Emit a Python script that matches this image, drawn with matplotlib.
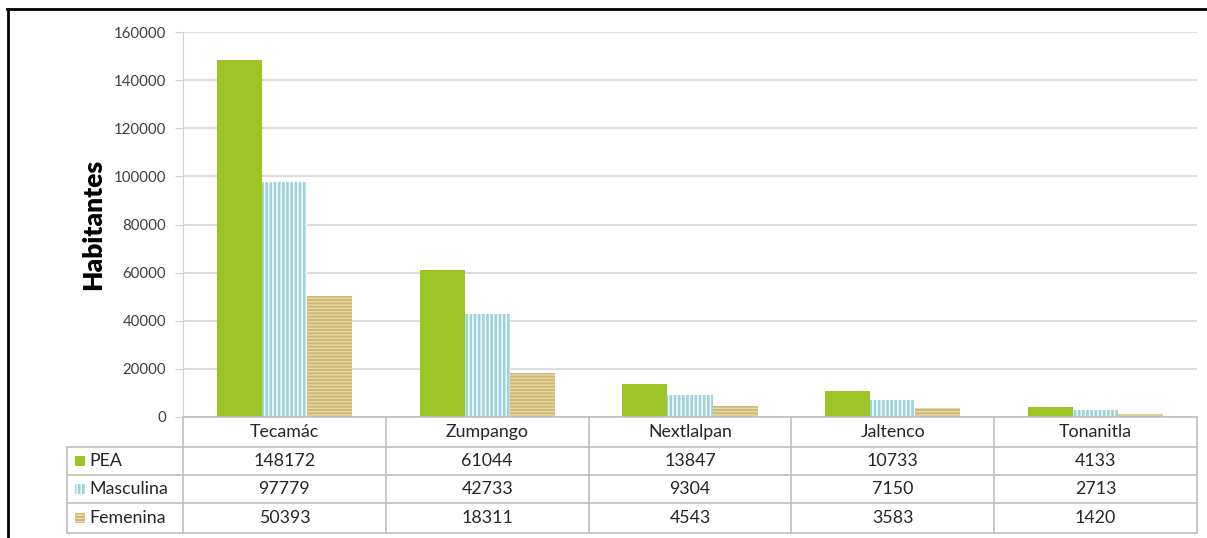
import matplotlib
matplotlib.use("Agg")
import matplotlib.pyplot as plt
from matplotlib.patches import Rectangle
from matplotlib.lines import Line2D
import numpy as np

municipios = ["Tecamác", "Zumpango", "Nextlalpan", "Jaltenco", "Tonanitla"]
series = ["PEA", "Masculina", "Femenina"]
pea = [148172, 61044, 13847, 10733, 4133]
masculina = [97779, 42733, 9304, 7150, 2713]
femenina = [50393, 18311, 4543, 3583, 1420]
yticks = [0, 20000, 40000, 60000, 80000, 100000, 120000, 140000, 160000]

colors = ["#9BC424", "#9FD3DB", "#CFB874"]
hatches = [None, "||||", "-----"]
hatch_colors = [None, "white", "#E6D9A8"]

plt.rcParams["font.family"] = ["Lato", "DejaVu Sans"]
plt.rcParams["hatch.linewidth"] = 1.0

W, H = 1207, 538
fig = plt.figure(figsize=(W / 100, H / 100), dpi=100)


def px(x0, y0, x1, y1):
    return [x0 / W, 1 - y1 / H, (x1 - x0) / W, (y1 - y0) / H]


ax = fig.add_axes(px(183, 32, 1197, 417))
n = len(municipios)
x = np.arange(n)
width = 0.222
values = [pea, masculina, femenina]
for i, (vals, c, h, hc) in enumerate(zip(values, colors, hatches, hatch_colors)):
    ax.bar(x + (i - 1) * width, vals, width, color=c,
           edgecolor=hc if hc else c, linewidth=0, hatch=h, zorder=3)

ax.set_xlim(-0.5, n - 0.5)
ax.set_ylim(0, 160000)
ax.set_yticks(yticks)
ax.set_yticklabels([str(v) for v in yticks], fontsize=10.8, color="#404040")
ax.set_xticks([])
ax.yaxis.grid(True, color="#D9D9D9", linewidth=1.3, zorder=0)
for s in ["top", "right", "bottom"]:
    ax.spines[s].set_visible(False)
ax.spines["left"].set_color("#D0D0D0")
ax.tick_params(axis="y", length=6, color="#D0D0D0", pad=6)
ax.set_ylabel("Habitantes", fontsize=19, fontweight="heavy", color="black", labelpad=6)

# data table below the chart
tx0, tx1 = 67, 1197
tax = fig.add_axes(px(tx0, 417, tx1, 533))
unit = (1197 - 183) / n
left = -0.5 - (183 - tx0) / unit
tax.set_xlim(left, n - 0.5)
tax.set_ylim(533, 417)
tax.axis("off")
row_edges = [417, 447, 475, 503, 533]
line_kw = dict(color="#BFBFBF", linewidth=1.2, clip_on=False)
for k, yy in enumerate(row_edges):
    x_start = -0.5 if k == 0 else left
    tax.add_line(Line2D([x_start, n - 0.5], [yy, yy], **line_kw))
for xx in np.arange(-0.5, n, 1.0):
    tax.add_line(Line2D([xx, xx], [417, 533], **line_kw))
tax.add_line(Line2D([left, left], [447, 533], **line_kw))

for j, name in enumerate(municipios):
    tax.text(j, (row_edges[0] + row_edges[1]) / 2, name, ha="center", va="center",
             fontsize=12.8, color="#262626")
sw = 10 / unit
for i, (label, vals) in enumerate(zip(series, values)):
    yc = (row_edges[i + 1] + row_edges[i + 2]) / 2
    tax.add_patch(Rectangle((left + 8 / unit, yc - 5), sw, 10, facecolor=colors[i],
                            edgecolor=hatch_colors[i] if hatch_colors[i] else colors[i],
                            linewidth=0, hatch=hatches[i]))
    tax.text(left + 22 / unit, yc, label, ha="left", va="center", fontsize=12.8, color="#262626")
    for j, v in enumerate(vals):
        tax.text(j, yc, str(v), ha="center", va="center", fontsize=12.8, color="#262626")

# outer frame lines (top and left)
fig.add_artist(Line2D([7 / W, 1], [1 - 8.5 / H, 1 - 8.5 / H], color="black", linewidth=2))
fig.add_artist(Line2D([7.5 / W, 7.5 / W], [0, 1 - 8.5 / H], color="black", linewidth=2))

fig.savefig("out.png", dpi=100)
